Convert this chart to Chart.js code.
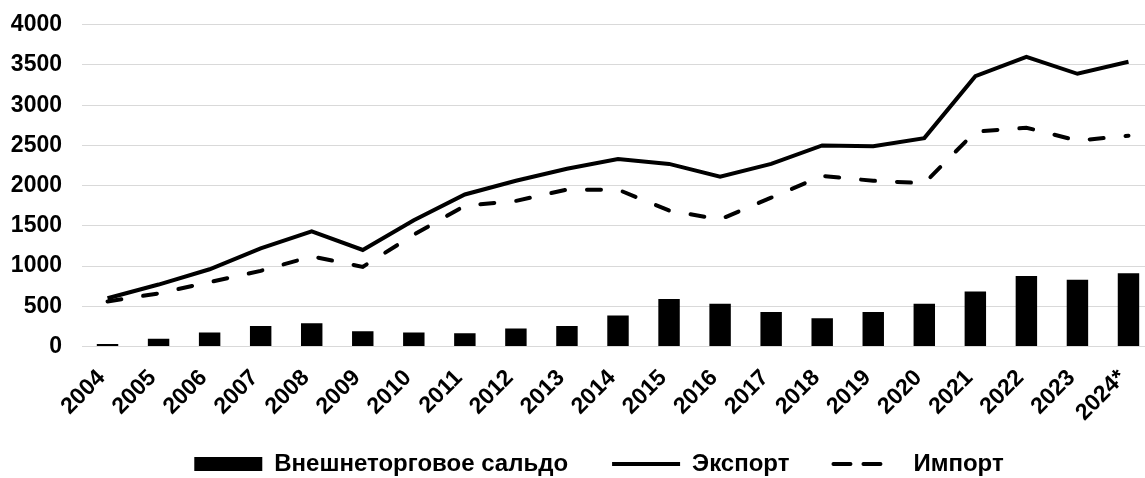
<!DOCTYPE html>
<html>
<head>
<meta charset="utf-8">
<script src="https://cdn.jsdelivr.net/npm/chart.js@4"></script>
<style>
  html, body { margin: 0; padding: 0; overflow: hidden; background: #fff; }
  #wrap { width: 1158px; height: 478px; }
</style>
</head>
<body>
<div id="wrap"><canvas id="chart"></canvas></div>
<script>
var years = ['2004','2005','2006','2007','2008','2009','2010','2011','2012','2013','2014',
             '2015','2016','2017','2018','2019','2020','2021','2022','2023','2024*'];
var saldo = [30, 95, 175, 255, 290, 190, 175, 165, 225, 255, 385,
             590, 530, 430, 350, 430, 530, 685, 875, 830, 910];
var exportVals = [600, 770, 960, 1220, 1430, 1200, 1570, 1890, 2060, 2210, 2330,
                  2270, 2110, 2270, 2500, 2490, 2590, 3360, 3600, 3390, 3540];
var importVals = [560, 660, 800, 940, 1120, 990, 1390, 1750, 1810, 1950, 1950,
                  1690, 1580, 1850, 2120, 2060, 2030, 2670, 2720, 2560, 2620];
var yMax = 4000, yStep = 500;

Chart.defaults.font.family = '"Liberation Sans", Arial, sans-serif';
Chart.defaults.font.weight = 'bold';
Chart.defaults.font.size = 23;
Chart.defaults.color = '#000';

var importDash = [14, 22];
var importLegendDash = [17, 13, 17, 40];

// nudge the legend to where it sits in the source picture
var legendShift = {
  id: 'legendShift',
  afterLayout: function(chart) {
    var lg = chart.legend;
    if (!lg) return;
    lg.left += 20; lg.right += 20;
    lg.top -= 14; lg.bottom = chart.height;
  }
};

new Chart(document.getElementById('chart'), {
  data: {
    labels: years,
    datasets: [
      {
        type: 'bar',
        label: 'Внешнеторговое сальдо',
        data: saldo,
        backgroundColor: '#000',
        borderWidth: 0,
        barPercentage: 0.42,
        categoryPercentage: 1
      },
      {
        type: 'line',
        label: 'Экспорт',
        data: exportVals,
        borderColor: '#000',
        borderWidth: 4,
        pointRadius: 0,
        tension: 0,
        fill: false
      },
      {
        type: 'line',
        label: 'Импорт',
        data: importVals,
        borderColor: '#000',
        borderWidth: 4,
        borderDash: importDash,
        borderCapStyle: 'round',
        pointRadius: 0,
        tension: 0,
        fill: false
      }
    ]
  },
  plugins: [legendShift],
  options: {
    responsive: true,
    maintainAspectRatio: false,
    animation: false,
    layout: { padding: 0 },
    plugins: {
      tooltip: { enabled: false },
      legend: {
        position: 'bottom',
        maxHeight: 56,
        labels: {
          font: { size: 24 },
          usePointStyle: true,
          pointStyleWidth: 68,
          boxHeight: 14,
          padding: 44,
          generateLabels: function(chart) {
            return [
              { text: 'Внешнеторговое сальдо', fillStyle: '#000', strokeStyle: '#000', lineWidth: 0, pointStyle: 'rect', datasetIndex: 0 },
              { text: 'Экспорт', fillStyle: 'transparent', strokeStyle: '#000', lineWidth: 4, pointStyle: 'line', lineDash: [], datasetIndex: 1 },
              { text: 'Импорт', fillStyle: 'transparent', strokeStyle: '#000', lineWidth: 4, pointStyle: 'line', lineDash: importLegendDash, lineCap: 'round', datasetIndex: 2 }
            ];
          }
        }
      }
    },
    scales: {
      x: {
        grid: { display: false },
        border: { display: false },
        ticks: { maxRotation: 45, minRotation: 45, padding: 10, labelOffset: -6 },
        afterFit: function(s) { s.height = 75.5; }
      },
      y: {
        min: 0,
        max: yMax,
        grid: { color: '#d9d9d9', lineWidth: 1, drawTicks: false },
        border: { display: false },
        ticks: { stepSize: yStep, padding: 20, font: { lineHeight: 0.41 }, callback: function(v) { return String(v); } },
        afterFit: function(s) { s.width = 82; }
      }
    }
  }
});
</script>
</body>
</html>
